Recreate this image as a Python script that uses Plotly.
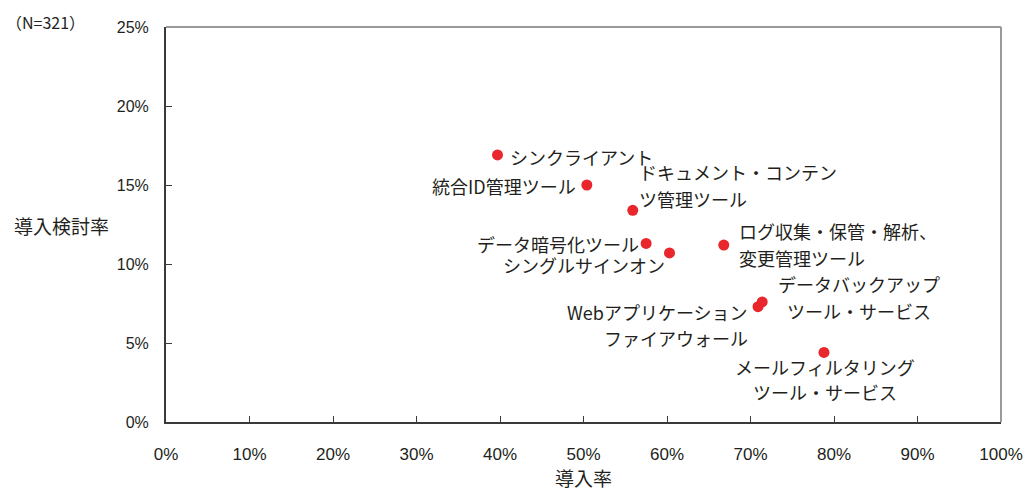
import plotly.graph_objects as go

# Survey result: adoption rate vs. rate of considering adoption (N=321)
tools = [
    "シンクライアント",
    "統合ID管理ツール",
    "ドキュメント・コンテンツ管理ツール",
    "データ暗号化ツール",
    "シングルサインオン",
    "ログ収集・保管・解析、変更管理ツール",
    "Webアプリケーションファイアウォール",
    "データバックアップツール・サービス",
    "メールフィルタリングツール・サービス",
]
adoption_rate = [39.7, 50.4, 55.9, 57.5, 60.3, 66.8, 70.9, 71.4, 78.8]       # 導入率 (%)
consideration_rate = [16.9, 15.0, 13.4, 11.3, 10.7, 11.2, 7.3, 7.6, 4.4]   # 導入検討率 (%)

x_ticks = [0, 10, 20, 30, 40, 50, 60, 70, 80, 90, 100]
y_ticks = [0, 5, 10, 15, 20, 25]

# How each label is broken into lines and where it sits around its dot:
# (lines, xanchor, xshift px, first-line yshift px, line step px)
label_layout = {
    "シンクライアント": (["シンクライアント"], "left", 10, -2, 0),
    "統合ID管理ツール": (["統合ID管理ツール"], "right", -9, -1, 0),
    "ドキュメント・コンテンツ管理ツール": (["ドキュメント・コンテン", "ツ管理ツール"], "left", 4, 38, 27),
    "データ暗号化ツール": (["データ暗号化ツール"], "right", -5, -1, 0),
    "シングルサインオン": (["シングルサインオン"], "right", -3, -12, 0),
    "ログ収集・保管・解析、変更管理ツール": (["ログ収集・保管・解析、", "変更管理ツール"], "left", 13, 14, 27),
    "Webアプリケーションファイアウォール": (["Webアプリケーション", "ファイアウォール"], "right", -8, -5, 26),
    "データバックアップツール・サービス": (["データバックアップ", "ツール・サービス"], "center", 97, 18, 27),
    "メールフィルタリングツール・サービス": (["メールフィルタリング", "ツール・サービス"], "center", 1, -15, 25),
}

W, H = 1035, 491
M_L, M_R, M_T, M_B = 166, 26, 27, 69
PW, PH = W - M_L - M_R, H - M_T - M_B

JP = "Noto Sans CJK JP, sans-serif"
NUM = "Liberation Sans, Arial, sans-serif"
TXT = "#231f20"

fig = go.Figure(
    go.Scatter(
        x=adoption_rate,
        y=consideration_rate,
        mode="markers",
        marker=dict(color="#e8262b", size=11, line=dict(width=0)),
        hovertext=tools,
        hoverinfo="text+x+y",
        showlegend=False,
    )
)

annotations = []
for name, xv, yv in zip(tools, adoption_rate, consideration_rate):
    lines, anchor, dx, dy, step = label_layout[name]
    for i, line in enumerate(lines):
        annotations.append(dict(
            x=xv, y=yv, xref="x", yref="y", text=line, showarrow=False,
            xanchor=anchor, yanchor="middle", xshift=dx, yshift=dy - i * step,
            font=dict(family=JP, size=18, color=TXT),
        ))

# sample size note and the horizontal y-axis title
annotations.append(dict(
    text="（N=321）", xref="paper", yref="paper",
    x=(2 - M_L) / PW, y=(H - M_B - 22) / PH, xanchor="left", yanchor="middle",
    showarrow=False, font=dict(family=JP, size=16, color=TXT),
))
annotations.append(dict(
    text="導入検討率", xref="paper", yref="paper",
    x=(11 - M_L) / PW, y=(H - M_B - 225) / PH, xanchor="left", yanchor="middle",
    showarrow=False, font=dict(family=JP, size=19, color=TXT),
))
annotations.append(dict(
    text="導入率", xref="paper", yref="paper",
    x=0.5, y=(H - M_B - 477) / PH, xanchor="center", yanchor="middle",
    showarrow=False, font=dict(family=JP, size=19, color=TXT),
))

fig.update_layout(
    width=W, height=H,
    margin=dict(l=M_L, r=M_R, t=M_T, b=M_B),
    paper_bgcolor="white", plot_bgcolor="white",
    annotations=annotations,
    shapes=[
        dict(type="line", xref="paper", yref="paper", x0=0, x1=1, y0=1, y1=1,
             line=dict(color="#9a9a9a", width=2), layer="below"),
        dict(type="line", xref="paper", yref="paper", x0=1, x1=1, y0=0, y1=1,
             line=dict(color="#9a9a9a", width=2), layer="below"),
    ],
)
fig.update_xaxes(
    range=[0, 100], tickvals=x_ticks, ticktext=[f"{v}%" for v in x_ticks],
    showgrid=False, zeroline=False, showline=True, linecolor="#3a3a3a", linewidth=2,
    ticks="inside", ticklen=6, tickwidth=1, tickcolor="#3a3a3a",
    ticklabelstandoff=16, tickfont=dict(family=NUM, size=17, color=TXT),
)
fig.update_yaxes(
    range=[0, 25], tickvals=y_ticks, ticktext=[f"{v}%" for v in y_ticks],
    showgrid=False, zeroline=False, showline=True, linecolor="#3a3a3a", linewidth=2,
    ticks="inside", ticklen=6, tickwidth=1, tickcolor="#3a3a3a",
    ticklabelstandoff=12, tickfont=dict(family=NUM, size=16, color=TXT),
)

fig.write_html("out.html")
